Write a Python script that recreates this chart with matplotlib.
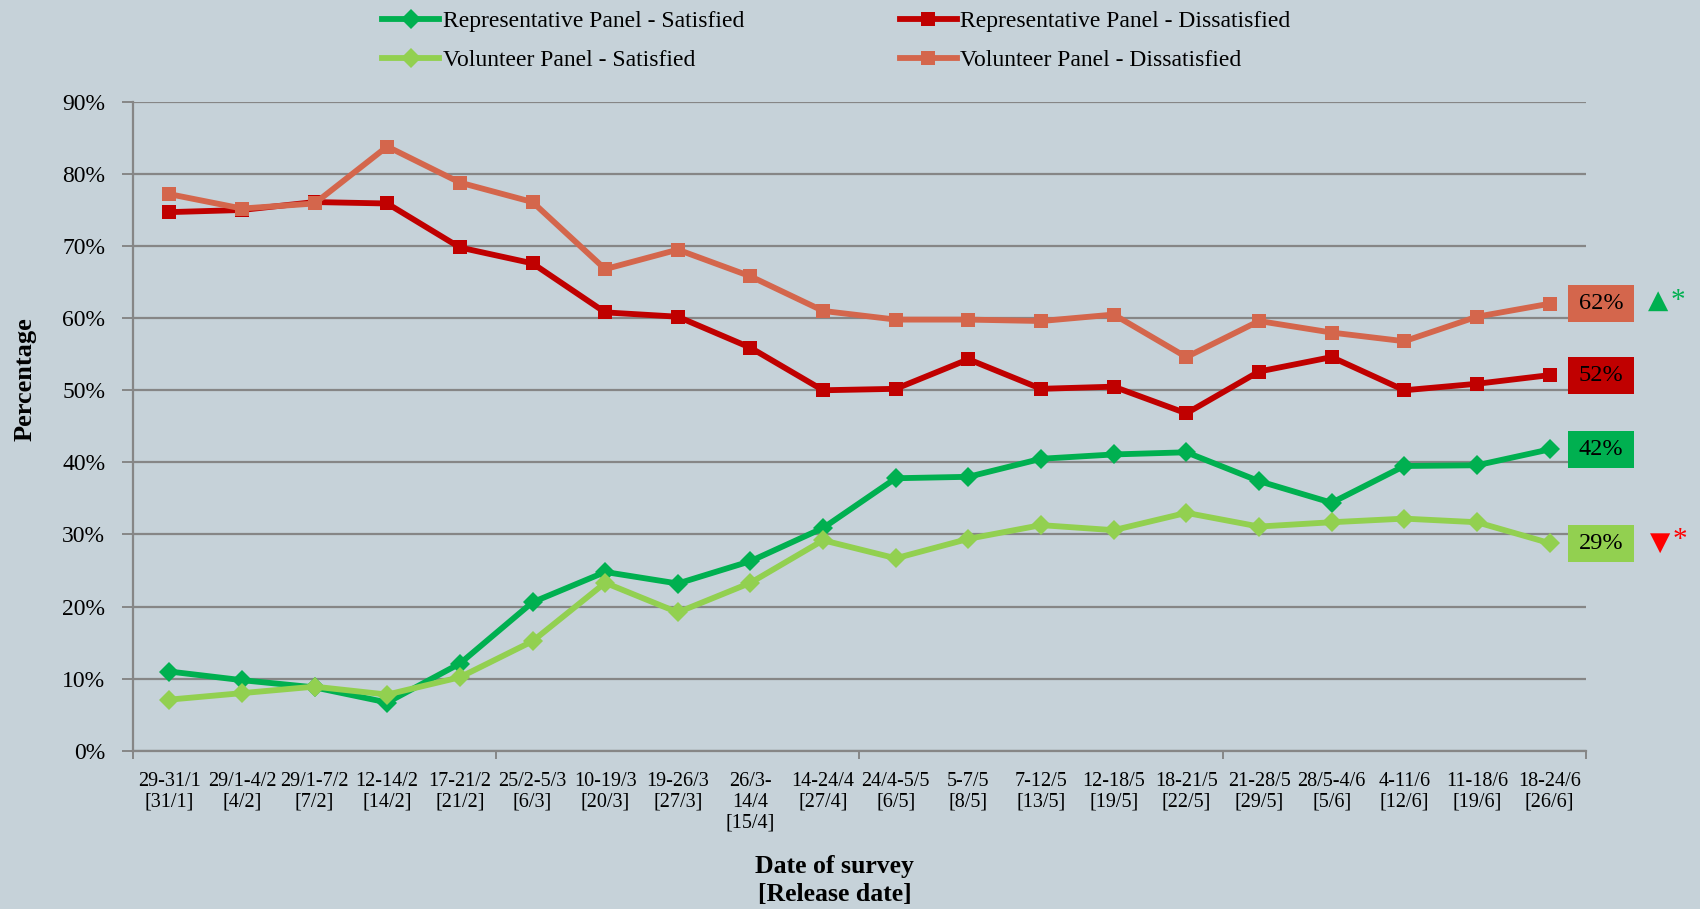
import matplotlib
matplotlib.use("Agg")
from matplotlib import pyplot as plt
from matplotlib.patches import Rectangle

dates = ["29-31/1\n[31/1]", "29/1-4/2\n[4/2]", "29/1-7/2\n[7/2]", "12-14/2\n[14/2]",
         "17-21/2\n[21/2]", "25/2-5/3\n[6/3]", "10-19/3\n[20/3]", "19-26/3\n[27/3]",
         "26/3-\n14/4\n[15/4]", "14-24/4\n[27/4]", "24/4-5/5\n[6/5]", "5-7/5\n[8/5]",
         "7-12/5\n[13/5]", "12-18/5\n[19/5]", "18-21/5\n[22/5]", "21-28/5\n[29/5]",
         "28/5-4/6\n[5/6]", "4-11/6\n[12/6]", "11-18/6\n[19/6]", "18-24/6\n[26/6]"]

rep_sat = [11.0, 9.8, 8.8, 6.7, 12.1, 20.6, 24.8, 23.2, 26.3, 30.9,
           37.8, 38.0, 40.5, 41.1, 41.4, 37.4, 34.4, 39.5, 39.6, 41.8]
vol_sat = [7.1, 8.0, 8.9, 7.8, 10.2, 15.2, 23.3, 19.2, 23.3, 29.2,
           26.7, 29.4, 31.3, 30.6, 33.0, 31.1, 31.7, 32.2, 31.7, 28.8]
rep_dis = [74.7, 75.0, 76.1, 75.9, 69.8, 67.6, 60.8, 60.2, 55.9, 50.0,
           50.2, 54.3, 50.2, 50.5, 46.8, 52.6, 54.6, 50.0, 50.9, 52.1]
vol_dis = [77.2, 75.2, 75.9, 83.8, 78.8, 76.1, 66.8, 69.5, 65.8, 61.0,
           59.8, 59.8, 59.6, 60.5, 54.6, 59.6, 58.0, 56.8, 60.2, 62.0]

end_labels = ["42%", "29%", "52%", "62%"]

bg = "#c6d2d9"
grid_c = "#868686"
c_rep_sat = "#00b050"
c_vol_sat = "#92d050"
c_rep_dis = "#c00000"
c_vol_dis = "#d4664c"

plt.rcParams["font.family"] = ["Liberation Serif", "DejaVu Serif"]

fig = plt.figure(figsize=(17, 9.09), dpi=100, facecolor=bg)
ax = fig.add_axes([0.0782, 0.174, 0.8547, 0.714])
ax.set_facecolor(bg)

x = list(range(len(dates)))
series = [
    (rep_sat, c_rep_sat, "D", 10, "Representative Panel - Satisfied"),
    (vol_sat, c_vol_sat, "D", 10, "Volunteer Panel - Satisfied"),
    (rep_dis, c_rep_dis, "s", 10.5, "Representative Panel - Dissatisfied"),
    (vol_dis, c_vol_dis, "s", 10.5, "Volunteer Panel - Dissatisfied"),
]
handles = []
for vals, col, mk, ms, name in series:
    h, = ax.plot(x, vals, color=col, lw=4.2, marker=mk, markersize=ms,
                 markeredgewidth=0, label=name, zorder=3)
    handles.append(h)

ax.set_xlim(-0.5, len(dates) - 0.5)
ax.set_ylim(0, 90)
ax.set_yticks(range(0, 91, 10))
ax.set_yticklabels([f"{v}%" for v in range(0, 91, 10)], fontsize=17)
ax.yaxis.grid(True, color=grid_c, lw=1.6)
ax.set_axisbelow(True)
ax.tick_params(axis="y", length=8, width=1.4, color=grid_c, pad=12)

ax.set_xticks(x)
ax.set_xticklabels(dates, fontsize=14.5, linespacing=1.15, va="top")
ax.set_xticks([i - 0.5 for i in range(0, len(dates) + 1, 5)], minor=True)
ax.tick_params(axis="x", which="major", length=0, pad=15)
ax.tick_params(axis="x", which="minor", length=6, width=1.4, color=grid_c)

for s in ["top", "right"]:
    ax.spines[s].set_visible(False)
for s in ["left", "bottom"]:
    ax.spines[s].set_color(grid_c)
    ax.spines[s].set_linewidth(1.6)

ax.set_ylabel("Percentage", fontsize=19, fontweight="bold")
ax.yaxis.set_label_coords(-0.066, 0.573)
ax.set_xlabel("Date of survey\n[Release date]", fontsize=18.5, fontweight="bold",
              linespacing=1.3)
ax.xaxis.set_label_coords(0.483, -0.16)

# value boxes at the end of each line
last = len(dates) - 1
for vals, col, lab in zip([rep_sat, vol_sat, rep_dis, vol_dis],
                          [c_rep_sat, c_vol_sat, c_rep_dis, c_vol_dis], end_labels):
    v = vals[last]
    ax.add_patch(Rectangle((last + 0.25, v - 2.55), 0.91, 5.1, facecolor=col,
                           edgecolor="none", clip_on=False, zorder=4))
    ax.text(last + 0.705, v, lab, ha="center", va="center", fontsize=17.5,
            color="black", zorder=5, clip_on=False)

# significance markers
ax.text(last + 1.49, vol_dis[last] + 0.4, "\u25b2", family="DejaVu Sans", fontsize=19,
        color=c_rep_sat, ha="center", va="center", clip_on=False)
ax.text(last + 1.77, vol_dis[last] + 0.4, "*", fontsize=21, color=c_rep_sat,
        ha="center", va="center", clip_on=False)
ax.text(last + 1.52, vol_sat[last], "\u25bc", family="DejaVu Sans", fontsize=19,
        color="#ff0000", ha="center", va="center", clip_on=False)
ax.text(last + 1.8, vol_sat[last] + 0.4, "*", fontsize=21, color="#ff0000",
        ha="center", va="center", clip_on=False)

fig.legend(handles=handles, loc="upper center", bbox_to_anchor=(0.492, 1.012),
           ncol=2, frameon=False, fontsize=17, handlelength=2.4,
           handletextpad=0.15, columnspacing=6.6, labelspacing=0.75)

fig.savefig("out.png", dpi=100, facecolor=bg)
